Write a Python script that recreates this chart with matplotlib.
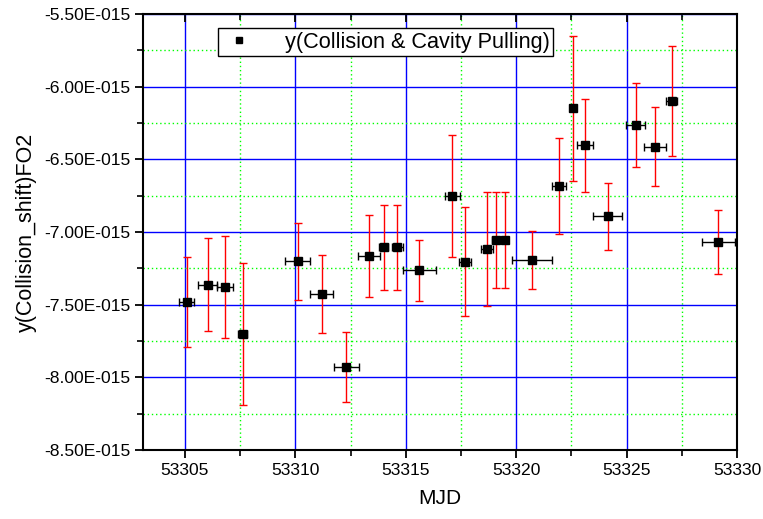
import matplotlib as mpl
import matplotlib.pyplot as plt
from matplotlib.ticker import FixedLocator, FuncFormatter

# data (y values in units of 1e-15)
mjd = [53305.08, 53306.03, 53306.81, 53307.61, 53310.10, 53311.19, 53312.31,
       53313.35, 53314.00, 53314.62, 53315.61, 53317.11, 53317.69, 53318.67,
       53319.10, 53319.48, 53320.72, 53321.94, 53322.57, 53323.12, 53324.14,
       53325.41, 53326.30, 53327.04, 53329.16, 53330.60]
shift = [-7.48, -7.363, -7.379, -7.702, -7.20, -7.427, -7.929,
         -7.166, -7.106, -7.106, -7.262, -6.750, -7.205, -7.117,
         -7.053, -7.053, -7.195, -6.682, -6.149, -6.402, -6.892,
         -6.262, -6.413, -6.099, -7.069, -6.51]
shift_err = [0.31, 0.32, 0.35, 0.49, 0.265, 0.27, 0.24,
             0.28, 0.29, 0.29, 0.21, 0.42, 0.375, 0.39,
             0.33, 0.33, 0.20, 0.33, 0.50, 0.32, 0.23,
             0.29, 0.27, 0.38, 0.22, 0.30]
mjd_err = [0.34, 0.42, 0.35, 0.20, 0.56, 0.53, 0.57,
           0.50, 0.20, 0.26, 0.75, 0.33, 0.26, 0.26,
           0.20, 0.14, 0.90, 0.32, 0.14, 0.36, 0.66,
           0.43, 0.50, 0.26, 0.75, 0.60]

# tick positions
x_major = [53305, 53310, 53315, 53320, 53325, 53330]
x_minor = [53307.5, 53312.5, 53317.5, 53322.5, 53327.5]
y_major = [-8.5, -8.0, -7.5, -7.0, -6.5, -6.0, -5.5]
y_minor = [-8.25, -7.75, -7.25, -6.75, -6.25, -5.75]

scale = 1e-15
y = [v * scale for v in shift]
yerr = [v * scale for v in shift_err]

mpl.rcParams['font.family'] = ['Liberation Sans', 'DejaVu Sans']

fig = plt.figure(figsize=(7.63, 5.19), dpi=100)
ax = fig.add_axes([0.1874, 0.1329, 0.7785, 0.8401])

ax.set_xlim(53303.1, 53330)
ax.set_ylim(-8.5e-15, -5.5e-15)

# сетка
ax.xaxis.set_major_locator(FixedLocator(x_major))
ax.xaxis.set_minor_locator(FixedLocator(x_minor))
ax.yaxis.set_major_locator(FixedLocator([v * scale for v in y_major]))
ax.yaxis.set_minor_locator(FixedLocator([v * scale for v in y_minor]))
ax.grid(which='major', color='#0000ff', lw=1.0, ls='-')
ax.grid(which='minor', color='#00ff00', lw=1.0, ls=(0, (1, 2)))
ax.set_axisbelow(True)


def sci_fmt(v, pos):
    if v == 0:
        return '0'
    s = '%.2E' % v
    mant, exp = s.split('E')
    sign = '-' if exp[0] == '-' else '+'
    return '%sE%s%03d' % (mant, sign, abs(int(exp)))


ax.yaxis.set_major_formatter(FuncFormatter(sci_fmt))

# error bars
ax.errorbar(mjd, y, yerr=yerr, fmt='none', ecolor='#ff0000', elinewidth=1,
            capsize=3, capthick=1)
ax.errorbar(mjd, y, xerr=mjd_err, fmt='none', ecolor='black', elinewidth=1,
            capsize=3, capthick=1)
ax.plot(mjd, y, 's', color='black', ms=5.5, ls='none',
        label='y(Collision & Cavity Pulling)')

# ticks: outward on left/bottom, inward on top
ax.tick_params(which='major', direction='out', length=6, width=1.3,
               labelsize=12.6, pad=3)
ax.tick_params(which='minor', direction='out', length=4, width=1.2)
ax.tick_params(axis='x', which='both', top=True)
for t in ax.xaxis.get_major_ticks() + ax.xaxis.get_minor_ticks():
    t.tick1line.set_marker(3)
    t.tick2line.set_marker(3)
for sp in ax.spines.values():
    sp.set_linewidth(1.5)

ax.set_xlabel('MJD', fontsize=15, labelpad=8)
ax.set_ylabel('y(Collision_shift)FO2', fontsize=15.5, labelpad=5)

leg = ax.legend(loc='upper left', bbox_to_anchor=(0.127, 0.967),
                fontsize=15.6, fancybox=False, framealpha=1,
                edgecolor='black', handletextpad=1.3, borderpad=0.15,
                handlelength=1.6, markerscale=0.8, borderaxespad=0)
leg.get_frame().set_linewidth(1)

plt.savefig('out.png', dpi=100)
plt.close(fig)
